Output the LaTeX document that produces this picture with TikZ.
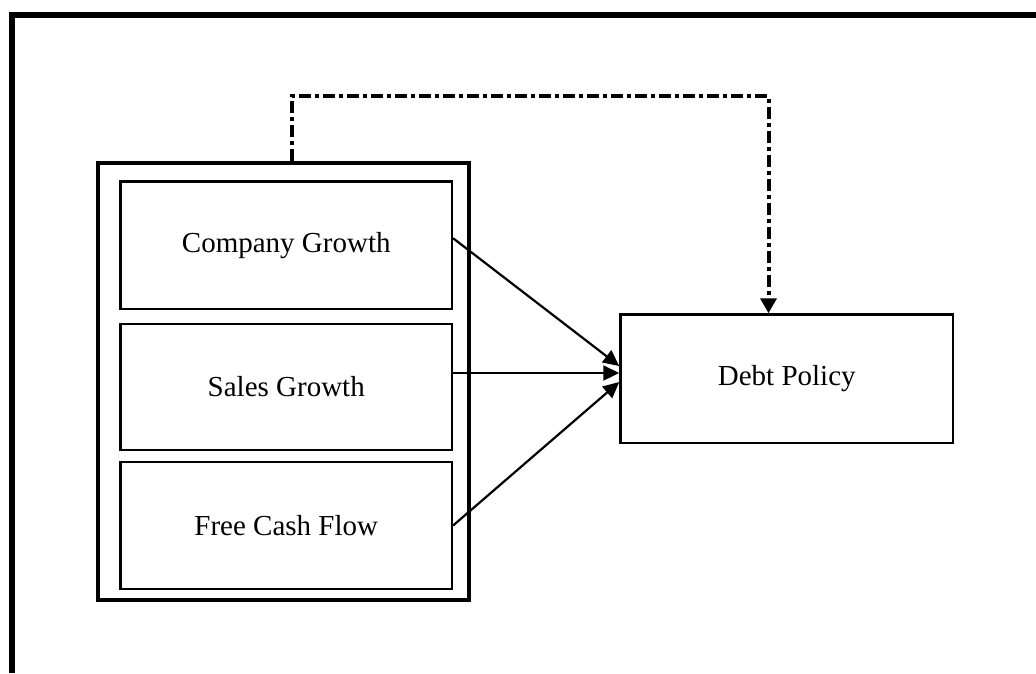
\documentclass[tikz,border=0pt]{standalone}
\usepackage{fontspec}
\setmainfont{Liberation Serif}
\usetikzlibrary{arrows.meta}

\tikzset{
  frameline/.style={line width=6pt},
  groupbox/.style={draw, line width=4pt, minimum width=371pt, minimum height=436.5pt, inner sep=0pt},
  varbox/.style={draw, line width=2.2pt, minimum width=331.5pt, inner sep=0pt,
                 font=\fontsize{29}{34}\selectfont},
  depbox/.style={draw, line width=2.5pt, minimum width=332.5pt, minimum height=128.5pt, inner sep=0pt,
                 font=\fontsize{29}{34}\selectfont},
  effect/.style={line width=2.2pt, -{Triangle[length=16pt,width=15pt]}},
  moderate/.style={line width=4pt, dash pattern=on 12pt off 4pt on 4pt off 4pt,
                   -{Triangle[length=15pt,width=16pt]}}
}

\begin{document}
\begin{tikzpicture}[x=1pt,y=-1pt]
  \useasboundingbox (0,0) rectangle (1036,673);

  % open page frame (top and left edges)
  \draw[frameline] (12,673) -- (12,15) -- (1036,15);

  % group of independent variables
  \node[groupbox] (grp) at (283.5,381.25) {};
  \node[varbox, minimum height=127.5pt] (cg)  at (286.25,245.25) {Company Growth};
  \node[varbox, minimum height=126pt]   (sg)  at (286.25,387)    {Sales Growth};
  \node[varbox, minimum height=127pt]   (fcf) at (286.25,525.5)  {Free Cash Flow};

  % dependent variable
  \node[depbox] (debt) at (786.75,378.75) {Debt Policy};

  % direct effects
  \draw[effect] ([yshift=7pt]cg.east)  -- ([yshift=12.75pt]debt.west);
  \draw[effect] ([yshift=14pt]sg.east) -- ([yshift=5.75pt]debt.west);
  \draw[effect] (fcf.east)             -- ([yshift=-3.25pt]debt.west);

  % simultaneous effect of the whole group
  \coordinate (ctop) at (0,96);
  \draw[moderate] ([xshift=8.5pt]grp.north)
      -- ([xshift=8.5pt]grp.north |- ctop)
      -- ([xshift=-18.25pt]debt.north |- ctop)
      -- ([xshift=-18.25pt]debt.north);
\end{tikzpicture}
\end{document}
